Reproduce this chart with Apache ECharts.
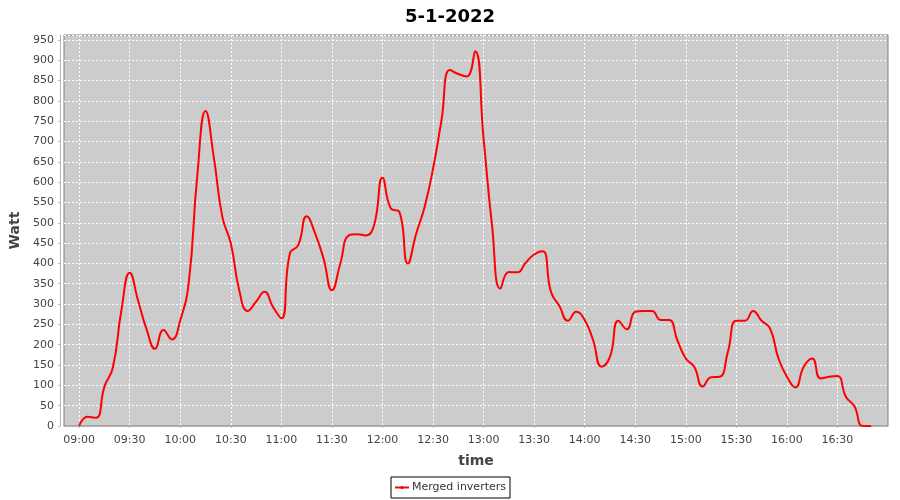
<!DOCTYPE html>
<html>
<head>
<meta charset="utf-8">
<script src="https://cdn.jsdelivr.net/npm/echarts@6/dist/echarts.min.js"></script>
<style>html,body{margin:0;padding:0;background:#fff}#c{width:900px;height:500px}</style>
</head>
<body>
<div id="c"></div>
<script>
// sample times (5-minute samples)
const sampleTimes = [
  '09:00','09:05','09:10','09:15','09:20','09:25','09:30','09:35','09:40','09:45','09:50','09:55',
  '10:00','10:05','10:10','10:15','10:20','10:25','10:30','10:35','10:40','10:45','10:50','10:55',
  '11:00','11:05','11:10','11:15','11:20','11:25','11:30','11:35','11:40','11:45','11:50','11:55',
  '12:00','12:05','12:10','12:15','12:20','12:25','12:30','12:35','12:40','12:45','12:50','12:55',
  '13:00','13:05','13:10','13:15','13:20','13:25','13:30','13:35','13:40','13:45','13:50','13:55',
  '14:00','14:05','14:10','14:15','14:20','14:25','14:30','14:35','14:40','14:45','14:50','14:55',
  '15:00','15:05','15:10','15:15','15:20','15:25','15:30','15:35','15:40','15:45','15:50','15:55',
  '16:00','16:05','16:10','16:15','16:20','16:25','16:30','16:35','16:40','16:45','16:50'
];
// Watt values
const wattValues = [
  0,23,20,97,144,283,377,308,238,190,236,213,
  260,352,611,775,658,514,449,334,283,306,330,293,
  265,424,445,516,474,412,334,400,469,472,469,494,
  611,535,527,400,473,539,633,752,876,866,860,922,
  707,494,338,379,378,402,422,430,330,295,259,281,
  261,211,146,170,259,238,281,283,283,261,261,211,
  166,146,97,120,121,183,259,259,283,259,240,166,
  121,95,146,166,117,121,123,72,49,0,0
];
const xTickLabels = ['09:00','09:30','10:00','10:30','11:00','11:30','12:00','12:30',
  '13:00','13:30','14:00','14:30','15:00','15:30','16:00','16:30'];
const yTicks = [0,50,100,150,200,250,300,350,400,450,500,550,600,650,700,750,800,850,900,950];
const seriesName = 'Merged inverters';
const chartTitle = '5-1-2022';

// axis domain: one category per minute, 08:51 .. 17:00
const pad = n => (n < 10 ? '0' : '') + n;
const minuteCats = [];
for (let m = 8 * 60 + 51; m <= 17 * 60; m++) minuteCats.push(pad(Math.floor(m / 60)) + ':' + pad(m % 60));

const data = sampleTimes.map((t, i) => [t, wattValues[i]]);
const isTick = (idx, val) => xTickLabels.indexOf(val) >= 0;

const chart = echarts.init(document.getElementById('c'), null, {renderer: 'canvas'});
const font = 'DejaVu Sans';
chart.setOption({
  backgroundColor: '#ffffff',
  animation: false,
  title: {
    text: chartTitle, left: 'center', top: 3,
    textStyle: {fontFamily: font, fontSize: 18, fontWeight: 'bold', color: '#000'}
  },
  grid: {
    left: 64, right: 12, top: 35, bottom: 74,
    show: true, backgroundColor: '#cccccc', borderColor: '#808080', borderWidth: 1
  },
  legend: {
    data: [seriesName], left: 'center', top: 477,
    borderColor: '#000', borderWidth: 1, borderRadius: 0, padding: [5, 4, 5, 3],
    itemWidth: 14, itemHeight: 4, itemGap: 2,
    textStyle: {fontFamily: font, fontSize: 11, color: '#333', padding: [0, 0, 0, -2]}
  },
  xAxis: {
    type: 'category', data: minuteCats, boundaryGap: false,
    offset: 4,
    name: 'time', nameLocation: 'middle', nameGap: 24,
    nameTextStyle: {fontFamily: font, fontSize: 14, fontWeight: 'bold', color: '#444'},
    axisLine: {show: true, lineStyle: {color: '#b4b4b4', width: 1}},
    axisTick: {show: true, length: 2, interval: isTick, lineStyle: {color: '#b4b4b4'}},
    axisLabel: {
      interval: isTick, fontFamily: font, fontSize: 11, color: '#444', margin: 5
    },
    splitLine: {show: true, interval: isTick, lineStyle: {color: '#ffffff', type: [2, 2], width: 1}}
  },
  yAxis: {
    type: 'value', min: 0, max: 962, interval: 50,
    offset: 4,
    name: 'Watt', nameLocation: 'middle', nameGap: 28, nameRotate: 90,
    nameTextStyle: {fontFamily: font, fontSize: 14, fontWeight: 'bold', color: '#444'},
    axisLine: {show: true, lineStyle: {color: '#b4b4b4', width: 1}},
    axisTick: {show: true, length: 2, lineStyle: {color: '#b4b4b4'}},
    axisLabel: {
      fontFamily: font, fontSize: 11, color: '#444', margin: 6,
      showMaxLabel: false,
      formatter: v => (yTicks.indexOf(v) >= 0 ? String(v) : '')
    },
    splitLine: {show: true, lineStyle: {color: '#ffffff', type: [2, 2], width: 1}}
  },
  series: [{
    name: seriesName, type: 'line', data: data,
    smooth: 0.5, symbol: 'circle', symbolSize: 3, showSymbol: false,
    lineStyle: {color: '#ff0000', width: 2}, itemStyle: {color: '#ff0000'}
  }]
});
</script>
</body>
</html>
